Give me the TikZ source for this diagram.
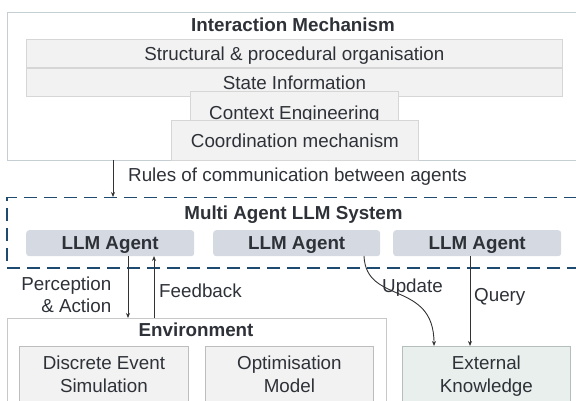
\documentclass[tikz,border=0pt]{standalone}
\usepackage{fontspec}
\setmainfont{Liberation Sans}
\usetikzlibrary{arrows.meta}
\definecolor{txt}{HTML}{2E3238}
\definecolor{outerline}{HTML}{C5CFD3}
\definecolor{cardfill}{HTML}{F2F2F2}
\definecolor{cardline}{HTML}{D6D6D6}
\definecolor{agentfill}{HTML}{D5D9E1}
\definecolor{dashblue}{HTML}{1D4A6E}
\definecolor{envline}{HTML}{C8C8C8}
\definecolor{innerline}{HTML}{BDBDBD}
\definecolor{extfill}{HTML}{E9EFED}
\definecolor{extline}{HTML}{B4BEBA}
\definecolor{arrowc}{HTML}{333333}
\tikzset{
  base/.style={font=\fontsize{18.8}{22.5}\selectfont, text=txt, inner sep=0pt, align=center, text depth=0pt},
  card/.style={base, draw=cardline, fill=cardfill, line width=0.8pt, anchor=north west},
  agentbox/.style={base, font=\fontsize{18.8}{22.5}\selectfont\bfseries, fill=agentfill, rounded corners=3pt, anchor=north west},
  innerbox/.style={base, draw=innerline, fill=cardfill, line width=0.8pt, anchor=north west},
  titletext/.style={base, font=\fontsize{18.8}{22.5}\selectfont\bfseries},
  lbl/.style={base},
  arr/.style={draw=arrowc, line width=0.9pt, -{Stealth[length=5pt,width=4pt]}},
}
\begin{document}
\begin{tikzpicture}[x=1pt,y=-1pt]
\useasboundingbox (0,0) rectangle (576,401);
\clip (0,0) rectangle (576,401);
% Interaction mechanism
\node[draw=outerline, line width=0.9pt, minimum width=575pt, minimum height=148pt, anchor=north west, inner sep=0pt] (outer) at (7,12) {};
\node[titletext] (imtitle) at (293,25) {Interaction Mechanism};
\node[card, minimum width=536pt, minimum height=28pt] (struct) at (26,39) {};
\node[base] (structt) at (struct.center) {Structural \& procedural organisation};
\node[card, minimum width=536pt, minimum height=28pt] (state) at (26,68) {};
\node[base] (statet) at (state.center) {State Information};
\node[card, minimum width=208pt, minimum height=42pt] (context) at (190,91) {};
\node[base] (contextt) at (context.center) {Context Engineering};
\node[card, minimum width=247pt, minimum height=40pt] (coord) at (171,120) {};
\node[base] (coordt) at (coord.center) {Coordination mechanism};
% Multi agent system
\node[draw=dashblue, line width=1.5pt, dash pattern=on 13pt off 7pt, minimum width=590pt, minimum height=70pt, anchor=north west, inner sep=0pt] (mas) at (6,197) {};
\node[titletext] (mastitle) at (293.5,213) {Multi Agent LLM System};
\node[agentbox, minimum width=168pt, minimum height=26pt] (a1) at (26,230) {LLM Agent};
\node[agentbox, minimum width=167pt, minimum height=26pt] (a2) at (213,230) {LLM Agent};
\node[agentbox, minimum width=168pt, minimum height=26pt] (a3) at (393,230) {LLM Agent};
% Environment
\node[draw=envline, line width=0.9pt, minimum width=379pt, minimum height=100pt, anchor=north west, inner sep=0pt] (env) at (7,318) {};
\node[titletext] (envtitle) at (196,330) {Environment};
\node[innerbox, minimum width=169pt, minimum height=56pt] (des) at (19,346) {Discrete Event\\Simulation};
\node[innerbox, minimum width=168pt, minimum height=56pt] (opt) at (205,346) {Optimisation\\Model};
% External knowledge
\node[base, draw=extline, fill=extfill, line width=0.8pt, anchor=north west, minimum width=168pt, minimum height=56pt] (ext) at (402,346) {External\\Knowledge};
% Connectors
\coordinate (r1) at (113,160);
\draw[arr] (r1) -- (r1 |- mas.north);
\node[lbl, anchor=west] (rules) at (128,175) {Rules of communication between agents};
\coordinate (p1) at (128,256);
\coordinate (f1) at (154,256);
\draw[arr] (p1) -- (p1 |- env.north);
\draw[arr] (f1 |- env.north) -- (f1);
\node[lbl, anchor=east, align=right] (perc) at (111.5,294.5) {Perception\\\& Action};
\node[lbl, anchor=west] (fb) at (159,291) {Feedback};
\coordinate (u1) at (364,256);
\coordinate (u2) at (434,346);
\draw[arr] (u1) .. controls (366,305) and (434,280) .. (u2);
\node[lbl, anchor=west] (upd) at (382,286) {Update};
\coordinate (q1) at (470,256);
\draw[arr] (q1) -- (q1 |- ext.north);
\node[lbl, anchor=west] (qry) at (474,295) {Query};
\end{tikzpicture}
\end{document}
